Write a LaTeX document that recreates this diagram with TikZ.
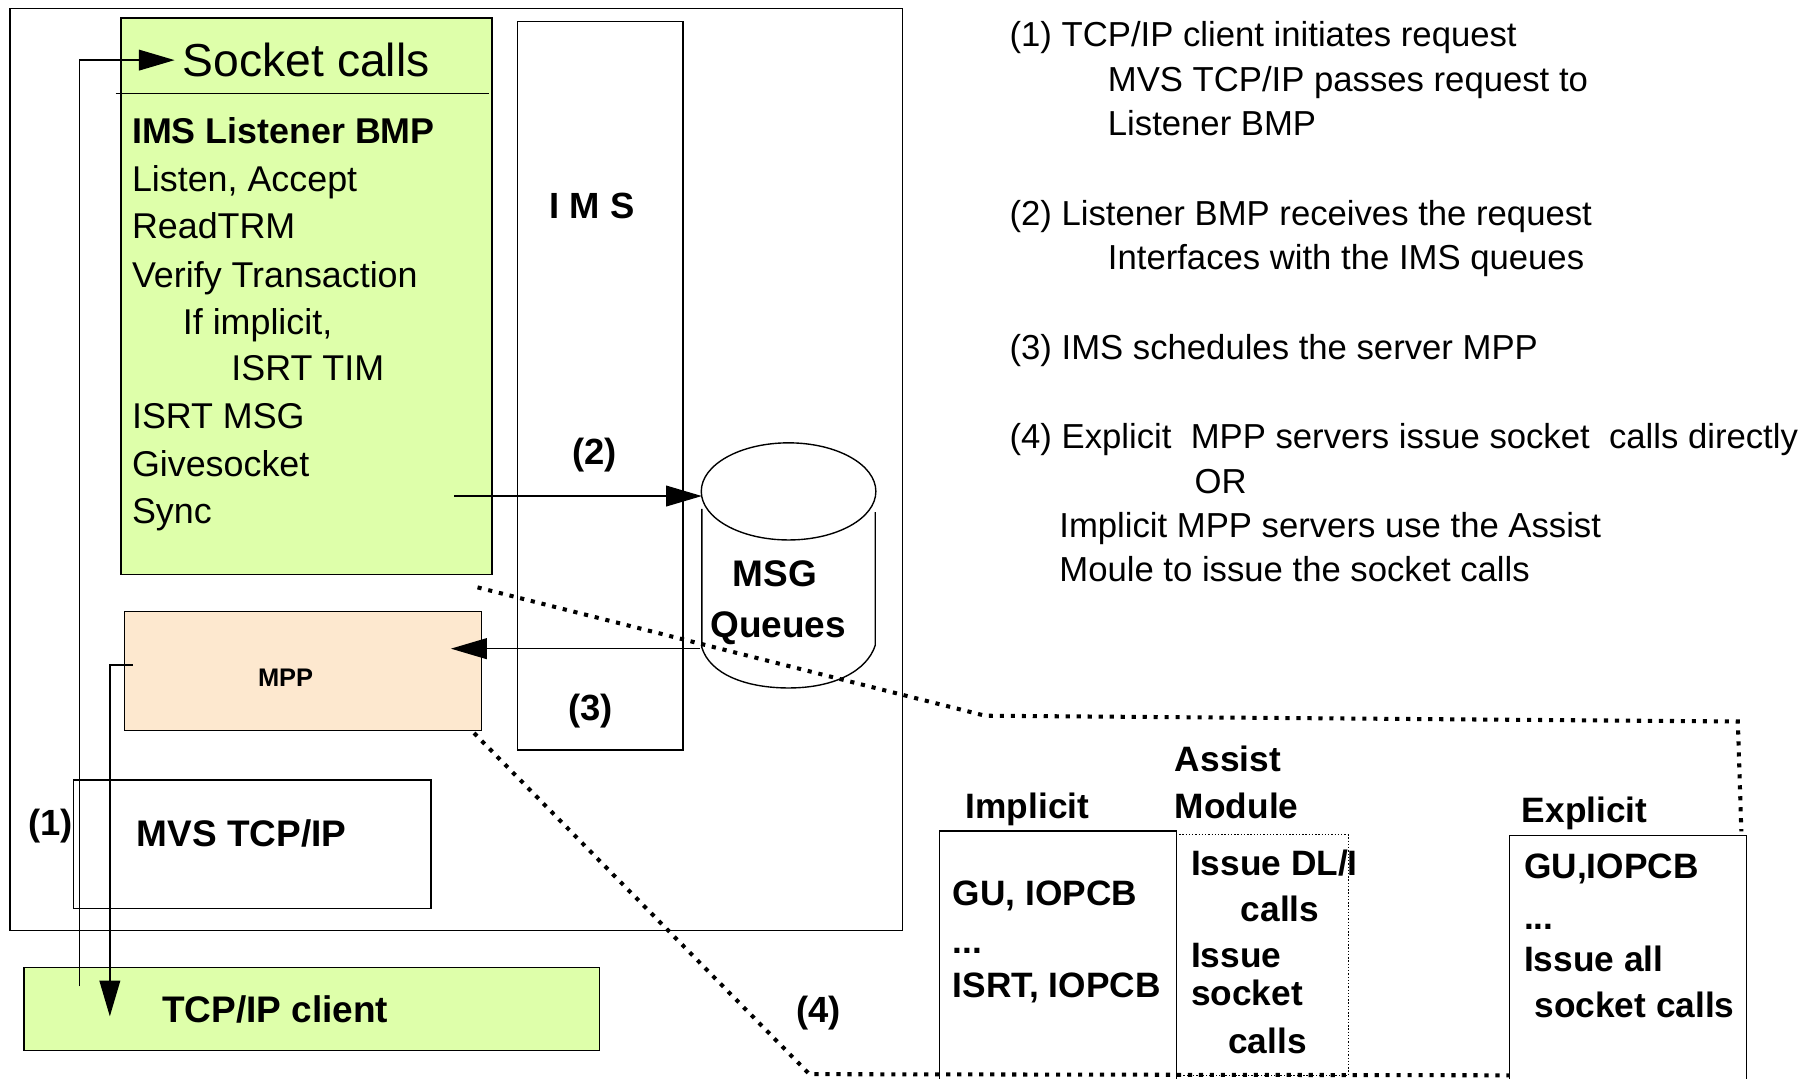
\documentclass[tikz,border=0pt]{standalone}
\usepackage{fontspec}
\setmainfont{Liberation Sans}
\usetikzlibrary{arrows.meta}
\definecolor{lgreen}{RGB}{222,255,170}
\definecolor{peach}{RGB}{253,232,207}
\tikzset{
  box/.style={draw, line width=1.2pt, inner sep=0pt, anchor=north west},
  txt/.style={anchor=base west, inner sep=0pt, font=\fontsize{31}{36}\selectfont},
  btxt/.style={anchor=base west, inner sep=0pt, font=\fontsize{30.5}{36}\selectfont\bfseries},
  bigb/.style={anchor=base west, inner sep=0pt, font=\fontsize{32}{38}\selectfont\bfseries},
  ctxt/.style={anchor=base, inner sep=0pt, font=\fontsize{31.5}{37}\selectfont\bfseries},
  rtxt/.style={anchor=base west, inner sep=0pt, font=\fontsize{30}{35}\selectfont},
  conn/.style={line width=1.2pt, -{Triangle[length=31pt,width=18pt]}},
  dotline/.style={line width=3.5pt, dash pattern=on 3.6pt off 5.9pt},
  fineline/.style={line width=1pt, dash pattern=on 1.2pt off 1.6pt},
}
\begin{document}
\begin{tikzpicture}[x=1pt,y=-1pt]
\useasboundingbox (0,0) rectangle (1568,933);

% outer host box
\node[box, minimum width=772pt, minimum height=797pt] (host) at (8,7) {};

% Listener BMP box
\node[box, fill=lgreen, minimum width=321pt, minimum height=481pt] (bmp) at (104,15) {};
\draw[line width=1.2pt] (100,81) coordinate (sepL) -- (423,81) coordinate (sepR);
\node[anchor=base west, inner sep=0pt, font=\fontsize{40}{46}\selectfont] (sock) at (158,66) {Socket calls};
\node[anchor=base west, inner sep=0pt, font=\fontsize{31}{36}\selectfont\bfseries] (l1) at (114,124) {IMS Listener BMP};
\node[txt] (l2) at (114,166) {Listen, Accept};
\node[txt] (l3) at (114,206.5) {ReadTRM};
\node[txt] (l4) at (114,249) {Verify Transaction};
\node[txt] (l5) at (158,289) {If implicit,};
\node[txt] (l6) at (200,329) {ISRT TIM};
\node[txt] (l7) at (114,370.5) {ISRT MSG};
\node[txt] (l8) at (114,412) {Givesocket};
\node[txt] (l9) at (114,453) {Sync};

% IMS box
\node[box, minimum width=143pt, minimum height=630pt] (ims) at (447,18) {};
\node[ctxt] (imslbl) at (512,189) {I M S};
\node[ctxt] (n2) at (514,402) {(2)};
\node[ctxt] (n3) at (511,623) {(3)};

% MSG queues cylinder
\draw[line width=1.2pt] (682,425) ellipse [x radius=75.5, y radius=42];
\coordinate (cylW) at (607,429);
\coordinate (cylL) at (605,561);
\draw[line width=1.2pt] (607,440) -- (607,560)
  .. controls (614,583) and (645,595) .. (682,595)
  .. controls (722,595) and (750,580) .. (757,558) -- (757,443);
\node[anchor=base, inner sep=0pt, font=\fontsize{32}{38}\selectfont\bfseries] (msg) at (670,507) {MSG};
\node[anchor=base, inner sep=0pt, font=\fontsize{32}{38}\selectfont\bfseries] (que) at (673,551) {Queues};

% MPP box
\node[box, fill=peach, minimum width=309pt, minimum height=103pt] (mpp) at (107,528) {};
\node[anchor=center, inner sep=0pt, font=\fontsize{22}{26}\selectfont\bfseries] (mpplbl) at (247,586) {MPP};

% MVS TCP/IP box
\node[box, minimum width=309pt, minimum height=111pt] (mvs) at (63,674) {};
\node[bigb] (mvslbl) at (118,732) {MVS TCP/IP};
\node[ctxt] (n1) at (44,723) {(1)};

% TCP/IP client box
\node[box, fill=lgreen, minimum width=498pt, minimum height=72pt] (client) at (20,836) {};
\node[bigb] (clientlbl) at (140,884) {TCP/IP client};

% connectors
\coordinate (c1a) at (69,853);
\coordinate (c1b) at (69,52);
\coordinate (c1c) at (151,52);
\draw[conn] (c1a) -- (c1b) -- (c1c);

\coordinate (c2a) at (115,575);
\coordinate (c2b) at (95,575);
\coordinate (c2c) at (95,879);
\draw[conn] (c2a) -- (c2b) -- (c2c);

\coordinate (c3a) at (393,429);
\draw[conn] (c3a) -- (cylW);

\coordinate (c4b) at (390,561);
\draw[conn] (cylL) -- (c4b);

% detail boxes
\node[box, minimum width=205pt, minimum height=225pt] (impl) at (812,718) {};
\draw[fineline] (1017,722) coordinate (asTL) -- (1166,722) -- (1166,930) -- (1017,930);
\node[box, minimum width=205pt, minimum height=225pt] (expl) at (1305,722) {};

\node[btxt] (impllbl) at (835,708) {Implicit};
\node[btxt] (as1) at (1016,667) {Assist};
\node[btxt] (as2) at (1016,708) {Module};
\node[btxt] (expllbl) at (1316,711) {Explicit};

\node[btxt] (i1) at (824,783) {GU, IOPCB};
\node[btxt] (i2) at (824,825) {...};
\node[btxt] (i3) at (824,863) {ISRT, IOPCB};

\node[btxt] (a1) at (1030,757) {Issue DL/I};
\node[btxt] (a2) at (1073,797) {calls};
\node[btxt] (a3) at (1030,837) {Issue};
\node[btxt] (a4) at (1030,870) {socket};
\node[btxt] (a5) at (1062,911) {calls};

\node[btxt] (e1) at (1318,760) {GU,IOPCB};
\node[btxt] (e2) at (1318,804) {...};
\node[btxt] (e3) at (1318,840) {Issue all};
\node[btxt] (e4) at (1327,880) {socket calls};

\node[ctxt] (n4) at (708,884) {(4)};

% dotted zoom lines
\coordinate (d1a) at (413,508);
\coordinate (d1b) at (852,619);
\coordinate (d1c) at (1503,624);
\coordinate (d1d) at (1506,719);
\draw[dotline] (d1a) -- (d1b) -- (d1c) -- (d1d);
\coordinate (d2a) at (410,634);
\coordinate (d2b) at (700,929);
\coordinate (d2c) at (1305,930);
\draw[dotline] (d2a) -- (d2b) -- (d2c);

% explanation text
\node[rtxt] (t1) at (873,40) {(1) TCP/IP client initiates request};
\node[rtxt] (t2) at (958,79) {MVS TCP/IP passes request to};
\node[rtxt] (t3) at (958,117) {Listener BMP};
\node[rtxt] (t4) at (873,195) {(2) Listener BMP receives the request};
\node[rtxt] (t5) at (958,233) {Interfaces with the IMS queues};
\node[rtxt] (t6) at (873,310.5) {(3) IMS schedules the server MPP};
\node[rtxt] (t7) at (873,388) {(4) Explicit\ \ MPP servers issue socket\ \ calls directly};
\node[rtxt] (t8) at (1033,426.5) {OR};
\node[rtxt] (t9) at (916,465) {Implicit MPP servers use the Assist};
\node[rtxt] (t10) at (916,503) {Moule to issue the socket calls};
\end{tikzpicture}
\end{document}
